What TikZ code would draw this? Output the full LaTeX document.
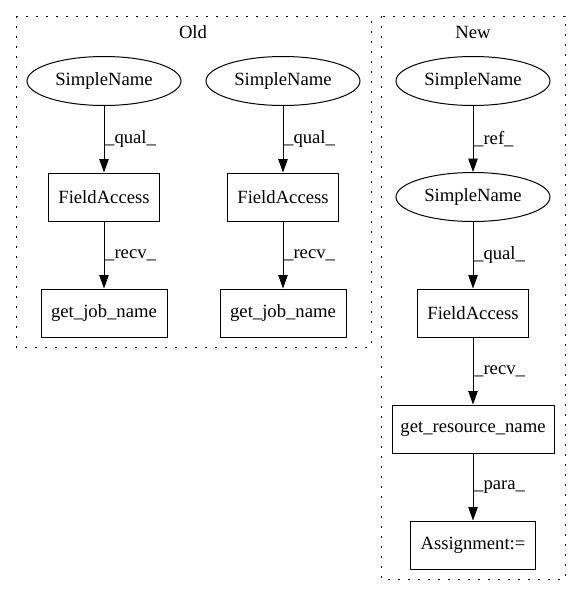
\documentclass[tikz,border=0pt]{standalone}
\usepackage{fontspec}
\setmainfont{Liberation Serif}
\usetikzlibrary{arrows.meta,shapes.geometric}
\tikzset{>={Triangle[length=10pt,width=7pt]}}
\tikzstyle{edge} = [draw, line width=0.75pt, ->]
\tikzstyle{simple} = [ellipse, draw, line width=0.75pt, minimum width=115.5pt, minimum height=36.75pt, inner sep=0pt]
\tikzstyle{box} = [rectangle, draw, line width=0.75pt, minimum height=36pt, inner sep=0pt]
\tikzstyle{cluster} = [draw, line width=0.75pt, dash pattern=on 1.2pt off 6.3pt]

\begin{document}
\begin{tikzpicture}[x=0.75pt, y=-0.75pt, font=\fontsize{14}{16}\selectfont]

\useasboundingbox (0,0) rectangle (581,596);

% clusters
\draw [cluster] (16,16) rectangle (371,347);
\draw [cluster] (381,16) rectangle (565,579);
\node (old-title) at (193,32) {Old};
\node (new-title) at (473,32) {New};

% old
\foreach \c [count=\i] in {104,283} {
  \node [simple] (old-sn-\i) at (\c,81) {SimpleName};
  \node [box, minimum width=83.25pt] (old-fa-\i) at (\c,197) {FieldAccess};
  \node [box, minimum width=94.5pt] (old-get-\i) at (\c,313) {get\_job\_name};
}

% new
\node [simple] (new-sn-1) at (473,81) {SimpleName};
\node [simple] (new-sn-2) at (473,197) {SimpleName};
\node [box, minimum width=83.25pt] (new-fa) at (473,313) {FieldAccess};
\node [box, minimum width=121.5pt] (new-get) at (473,429) {get\_resource\_name};
\node [box, minimum width=93.75pt] (new-assign) at (473,545) {Assignment:=};

\foreach \a/\b/\l in {old-sn-1/old-fa-1/qual, old-fa-1/old-get-1/recv,
    old-sn-2/old-fa-2/qual, old-fa-2/old-get-2/recv,
    new-sn-1/new-sn-2/ref, new-sn-2/new-fa/qual,
    new-fa/new-get/recv, new-get/new-assign/para}
  \draw [edge] (\a) -- (\b) node [right, midway, inner sep=0.5pt] {\_\l\_};

\end{tikzpicture}
\end{document}
